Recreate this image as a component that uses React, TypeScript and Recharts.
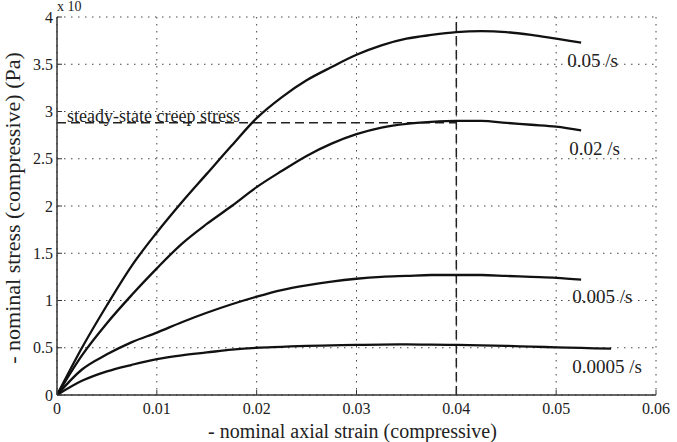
import { LineChart, Line, XAxis, YAxis, CartesianGrid, ReferenceLine, ReferenceDot, Label } from 'recharts'

// strain points (shared), the slowest test ran a bit longer
const strain = [0, 0.0025, 0.005, 0.0075, 0.01, 0.0125, 0.015, 0.0175, 0.02, 0.0225, 0.025, 0.0275, 0.03, 0.0325, 0.035, 0.0375, 0.04, 0.0425, 0.045, 0.0475, 0.05, 0.0525]
const strainSlow = [...strain, 0.0555]

// stress in units of 10^6 Pa
const rate005 = [0, 0.5, 0.95, 1.37, 1.72, 2.04, 2.34, 2.64, 2.93, 3.15, 3.33, 3.47, 3.6, 3.7, 3.77, 3.81, 3.84, 3.85, 3.84, 3.81, 3.77, 3.73]
const rate002 = [0, 0.42, 0.76, 1.06, 1.34, 1.6, 1.81, 2.0, 2.2, 2.37, 2.53, 2.66, 2.76, 2.83, 2.87, 2.89, 2.9, 2.9, 2.88, 2.86, 2.84, 2.8]
const rate0005 = [0, 0.27, 0.43, 0.56, 0.66, 0.77, 0.87, 0.96, 1.04, 1.11, 1.16, 1.2, 1.23, 1.25, 1.26, 1.27, 1.27, 1.27, 1.26, 1.25, 1.24, 1.22]
const rate00005 = [0, 0.15, 0.25, 0.32, 0.38, 0.42, 0.45, 0.48, 0.5, 0.51, 0.52, 0.525, 0.53, 0.533, 0.535, 0.533, 0.53, 0.525, 0.52, 0.512, 0.505, 0.498, 0.49]

const xTicks = [0, 0.01, 0.02, 0.03, 0.04, 0.05, 0.06]
const yTicks = [0, 0.5, 1, 1.5, 2, 2.5, 3, 3.5, 4]

const creepStress = 2.88
const creepStrain = 0.04

const curveLabels = [
  { text: '0.05 /s', x: 0.0511, y: 3.54 },
  { text: '0.02 /s', x: 0.0513, y: 2.61 },
  { text: '0.005 /s', x: 0.0516, y: 1.04 },
  { text: '0.0005 /s', x: 0.0516, y: 0.3 },
]

const serif = '"Liberation Serif", "Times New Roman", serif'
const ink = '#222'

const toPts = (xs: number[], ys: number[]) => xs.map((x, i) => ({ strain: x, stress: ys[i] }))

const series = [
  { name: '0.05 /s', data: toPts(strain, rate005) },
  { name: '0.02 /s', data: toPts(strain, rate002) },
  { name: '0.005 /s', data: toPts(strain, rate0005) },
  { name: '0.0005 /s', data: toPts(strainSlow, rate00005) },
]

function YTitle(props: any) {
  const vb = props.viewBox
  const cx = vb.x + 12
  const cy = vb.y + vb.height / 2 + 2
  return (
    <text x={cx} y={cy} transform={`rotate(-90 ${cx} ${cy})`} textAnchor="middle" dominantBaseline="central" fontSize={22} fontFamily={serif} fill={ink}>
      - nominal stress (compressive) (Pa)
    </text>
  )
}

function XTitle(props: any) {
  const vb = props.viewBox
  return (
    <text x={vb.x + vb.width / 2 - 4} y={437.5} textAnchor="middle" fontSize={20} fontFamily={serif} fill={ink}>
      - nominal axial strain (compressive)
    </text>
  )
}

export default function App() {
  const tickStyle = { fontSize: 16, fill: ink, fontFamily: serif }
  return (
    <div style={{ position: 'absolute', left: 0, top: 0, width: 677, height: 442, background: '#fff' }}>
      <LineChart width={677} height={442} margin={{ top: 17, right: 21, left: 0, bottom: 0 }}>
        <CartesianGrid stroke="#444" strokeDasharray="1.5 5.5" />
        <XAxis
          type="number"
          dataKey="strain"
          domain={[0, 0.06]}
          ticks={xTicks}
          allowDataOverflow
          height={47}
          tickSize={-5}
          tickMargin={13}
          tick={tickStyle}
          tickLine={{ stroke: '#333' }}
          axisLine={{ stroke: '#333', strokeWidth: 1.5 }}
          tickFormatter={(v) => String(v)}
        >
          <Label content={XTitle} />
        </XAxis>
        <XAxis
          xAxisId="top"
          orientation="top"
          type="number"
          domain={[0, 0.06]}
          ticks={xTicks}
          allowDataOverflow
          height={0}
          tickSize={-5}
          tick={false}
          tickLine={{ stroke: '#333' }}
          axisLine={{ stroke: '#333', strokeWidth: 1.5 }}
        />
        <YAxis
          type="number"
          domain={[0, 4]}
          ticks={yTicks}
          allowDataOverflow
          width={57}
          tickSize={-5}
          tickMargin={9}
          tick={tickStyle}
          tickLine={{ stroke: '#333' }}
          axisLine={{ stroke: '#333', strokeWidth: 1.5 }}
          tickFormatter={(v) => String(v)}
        >
          <Label content={YTitle} />
        </YAxis>
        <YAxis
          yAxisId="right"
          orientation="right"
          type="number"
          domain={[0, 4]}
          ticks={yTicks}
          allowDataOverflow
          width={0}
          tickSize={-5}
          tick={false}
          tickLine={{ stroke: '#333' }}
          axisLine={{ stroke: '#333', strokeWidth: 1.5 }}
        />
        <ReferenceLine x={creepStrain} stroke="#222" strokeWidth={1.5} strokeDasharray="9 5" />
        <ReferenceLine
          segment={[{ x: 0, y: creepStress }, { x: creepStrain, y: creepStress }]}
          stroke="#222"
          strokeWidth={1.5}
          strokeDasharray="9 5"
        />
        {series.map((s) => (
          <Line
            key={s.name}
            data={s.data}
            dataKey="stress"
            type="monotone"
            stroke="#111"
            strokeWidth={2.3}
            dot={false}
            isAnimationActive={false}
          />
        ))}
        <ReferenceDot
          x={0.001}
          y={2.96}
          r={0}
          fill="none"
          stroke="none"
          label={{ value: 'steady-state creep stress', position: 'right', offset: 0, fontSize: 18, fontFamily: serif, fill: ink }}
        />
        <ReferenceDot
          x={0}
          y={4.12}
          r={0}
          fill="none"
          stroke="none"
          ifOverflow="visible"
          label={{ value: 'x 10', position: 'right', offset: 0, fontSize: 14, fontFamily: serif, fill: ink }}
        />
        {curveLabels.map((c) => (
          <ReferenceDot
            key={c.text}
            x={c.x}
            y={c.y}
            r={0}
            fill="none"
            stroke="none"
            label={{ value: c.text, position: 'right', offset: 0, fontSize: 19, fontFamily: serif, fill: ink }}
          />
        ))}
      </LineChart>
    </div>
  )
}
